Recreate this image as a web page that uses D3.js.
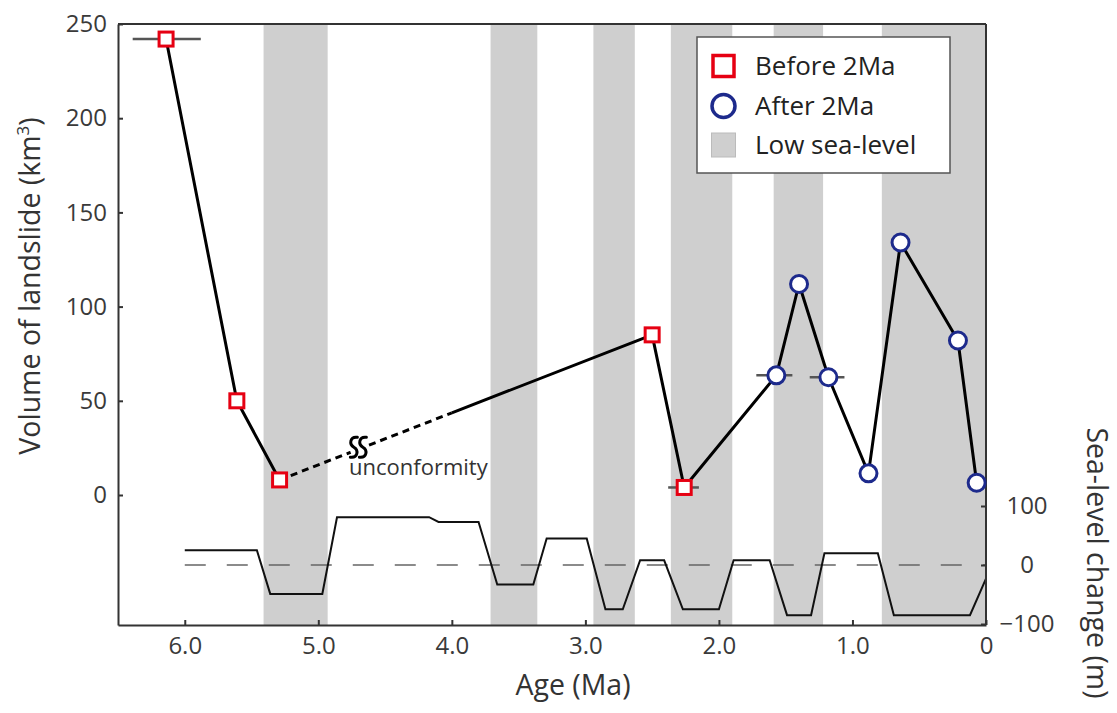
<!DOCTYPE html>
<html>
<head>
<meta charset="utf-8">
<script src="https://cdn.jsdelivr.net/npm/d3@7"></script>
<style>
  html, body { margin: 0; padding: 0; background: #fff; }
  svg { display: block; font-family: "Open Sans", sans-serif; }
</style>
</head>
<body>
<svg id="chart" width="1117" height="713"></svg>
<script>
// ---------- DATA ----------
const lowSeaStart = [5.41, 3.71, 2.94, 2.36, 1.59, 0.78];
const lowSeaEnd   = [4.93, 3.36, 2.63, 1.90, 1.22, 0.00];

const seaAge   = [6.0, 5.46, 5.36, 4.97, 4.86, 4.17, 4.10, 3.80, 3.66, 3.39, 3.29, 2.99, 2.85, 2.72, 2.59, 2.41, 2.27, 2.00, 1.89, 1.62, 1.49, 1.31, 1.21, 0.81, 0.69, 0.12, 0.0];
const seaLevel = [25, 25, -49, -49, 81, 81, 73, 73, -33, -33, 45, 45, -75, -75, 8, 8, -75, -75, 8, 8, -85, -85, 20, 20, -85, -85, -23];

const beforeAge = [6.14, 5.61, 5.29, 2.50, 2.26];
const beforeVol = [242, 50, 8, 85, 4];
const afterAge  = [1.57, 1.40, 1.18, 0.88, 0.64, 0.21, 0.07];
const afterVol  = [63.5, 112, 62.5, 11.5, 134, 82, 6.5];

// horizontal age-uncertainty bars: [series, index, older age, younger age]
const errSeries = ["before", "before", "after", "after"];
const errIndex  = [0, 4, 0, 2];
const errOld    = [6.39, 2.38, 1.72, 1.32];
const errYoung  = [5.88, 2.15, 1.45, 1.06];

const ageTicks = [6, 5, 4, 3, 2, 1, 0];
const volTicks = [0, 50, 100, 150, 200, 250];
const seaTicks = [-100, 0, 100];

const unconformityEndAge = 4.0;   // dotted part of the line ends here
const breakMarkAge = 4.70;        // position of the break symbol
const legendLabels = ["Before 2Ma", "After 2Ma", "Low sea-level"];

// ---------- LAYOUT ----------
const L = 118, R = 986, T = 24, B = 625;
const svg = d3.select("#chart");

const x = d3.scaleLinear().domain([6.5, 0]).range([L, R]);
const y = d3.scaleLinear().domain([-69, 250]).range([B, T]);
const ySea = d3.scaleLinear().domain([-100, 100]).range([624, 506]);

const RED = "#e60012", BLUE = "#1d2a8c", GRAY = "#cfcfcf", TXT = "#333";

// Low sea-level bands
svg.append("g").selectAll("rect")
  .data(lowSeaStart.map((s, i) => [s, lowSeaEnd[i]]))
  .join("rect")
  .attr("x", d => x(d[0]))
  .attr("y", T)
  .attr("width", d => x(d[1]) - x(d[0]))
  .attr("height", B - T)
  .attr("fill", GRAY);

// Sea level zero dashed line
svg.append("line")
  .attr("x1", x(6.0)).attr("x2", x(0))
  .attr("y1", ySea(0)).attr("y2", ySea(0))
  .attr("stroke", "#666").attr("stroke-width", 1.5)
  .attr("stroke-dasharray", "21,21");

// Sea level curve
const seaPts = seaAge.map((a, i) => [a, seaLevel[i]]);
svg.append("path")
  .datum(seaPts)
  .attr("d", d3.line().x(d => x(d[0])).y(d => ySea(d[1])))
  .attr("fill", "none").attr("stroke", "#111").attr("stroke-width", 2);

// Axes
const axisLeft = d3.axisLeft(y).tickValues(volTicks).tickSizeInner(-5).tickSizeOuter(0).tickPadding(11);
const gL = svg.append("g").attr("transform", `translate(${L},0)`).call(axisLeft);

const axisBottom = d3.axisBottom(x).tickValues(ageTicks).tickSizeInner(-5).tickSizeOuter(0).tickPadding(12)
  .tickFormat(d => d === 0 ? "0" : d3.format(".1f")(d));
const gB = svg.append("g").attr("transform", `translate(0,${B})`).call(axisBottom);

const axisRight = d3.axisRight(ySea).tickValues(seaTicks).tickSizeInner(-5).tickSizeOuter(0).tickPadding(41);
const gR = svg.append("g").attr("transform", `translate(${R},0)`).call(axisRight);
gR.select(".domain").attr("d", `M0,${T}V${B}`);
gR.selectAll(".tick text").attr("text-anchor", "middle");

// top frame line
svg.append("line").attr("x1", L).attr("x2", R).attr("y1", T).attr("y2", T)
  .attr("stroke", TXT).attr("stroke-width", 2);

[gL, gB, gR].forEach(g => {
  g.select(".domain").attr("stroke", TXT).attr("stroke-width", 2);
  g.selectAll(".tick line").attr("stroke", TXT).attr("stroke-width", 2);
  g.selectAll(".tick text").attr("fill", "#3a3a3a").attr("font-size", 24)
    .attr("font-family", "Open Sans, sans-serif");
});

// Axis titles
svg.append("text").attr("transform", "translate(40,286) rotate(-90)")
  .attr("text-anchor", "middle").attr("font-size", 28.5).attr("fill", TXT)
  .text("Volume of landslide (km")
  .append("tspan").attr("baseline-shift", "super").attr("font-size", 17).text("3")
  .select(function () { return this.parentNode; })
  .append("tspan").text(")");

svg.append("text").attr("x", 573).attr("y", 695)
  .attr("text-anchor", "middle").attr("font-size", 28.5).attr("fill", TXT)
  .text("Age (Ma)");

svg.append("text").attr("transform", "translate(1087,563) rotate(90)")
  .attr("text-anchor", "middle").attr("font-size", 28.5).attr("fill", TXT)
  .text("Sea-level change (m)");

// Connecting line
const allPts = beforeAge.map((a, i) => [a, beforeVol[i]]).concat(afterAge.map((a, i) => [a, afterVol[i]]));
const line = d3.line().x(d => x(d[0])).y(d => y(d[1]));
const p3 = allPts[2], p4 = allPts[3];
const along = a => { const t = (p3[0] - a) / (p3[0] - p4[0]); return [a, p3[1] + t * (p4[1] - p3[1])]; };
const splitPt = along(unconformityEndAge);

svg.append("path").datum(allPts.slice(0, 3)).attr("d", line)
  .attr("fill", "none").attr("stroke", "#000").attr("stroke-width", 3);
svg.append("path").datum([p3, splitPt]).attr("d", line)
  .attr("fill", "none").attr("stroke", "#000").attr("stroke-width", 3).attr("stroke-dasharray", "7,5");
svg.append("path").datum([splitPt].concat(allPts.slice(3))).attr("d", line)
  .attr("fill", "none").attr("stroke", "#000").attr("stroke-width", 3).attr("stroke-linejoin", "round");

// Break mark (two wavy strokes)
const bm = along(breakMarkAge);
const gBreak = svg.append("g").attr("transform", `translate(${x(bm[0])},${y(bm[1]) - 2})`);
gBreak.append("rect").attr("x", -9).attr("y", -5).attr("width", 18).attr("height", 10)
  .attr("fill", "#fff").attr("transform", "rotate(-20)");
[-4.5, 4.5].forEach(dx => {
  gBreak.append("path")
    .attr("d", `M${dx + 3.5},-10 C${dx - 4},-11 ${dx - 5},-3 ${dx},0 C${dx + 5},3 ${dx + 4},11 ${dx - 3.5},10`)
    .attr("fill", "none").attr("stroke", "#000").attr("stroke-width", 3).attr("stroke-linecap", "round");
});
svg.append("text").attr("x", 349).attr("y", 475).attr("font-size", 22).attr("fill", TXT)
  .text("unconformity");

// Error bars
svg.append("g").selectAll("line")
  .data(errIndex.map((idx, i) => {
    const vol = errSeries[i] === "before" ? beforeVol[idx] : afterVol[idx];
    return { a0: errOld[i], a1: errYoung[i], v: vol };
  }))
  .join("line")
  .attr("x1", d => x(d.a0)).attr("x2", d => x(d.a1))
  .attr("y1", d => y(d.v)).attr("y2", d => y(d.v))
  .attr("stroke", "#555").attr("stroke-width", 2.5);

// Markers
const SQ = 14;
svg.append("g").selectAll("rect")
  .data(beforeAge.map((a, i) => [a, beforeVol[i]]))
  .join("rect")
  .attr("x", d => x(d[0]) - SQ / 2).attr("y", d => y(d[1]) - SQ / 2)
  .attr("width", SQ).attr("height", SQ)
  .attr("fill", "#fff").attr("stroke", RED).attr("stroke-width", 3);

svg.append("g").selectAll("circle")
  .data(afterAge.map((a, i) => [a, afterVol[i]]))
  .join("circle")
  .attr("cx", d => x(d[0])).attr("cy", d => y(d[1])).attr("r", 8.5)
  .attr("fill", "#fff").attr("stroke", BLUE).attr("stroke-width", 3);

// Legend
const lg = svg.append("g");
lg.append("rect").attr("x", 697).attr("y", 37).attr("width", 253).attr("height", 136)
  .attr("fill", "#fff").attr("stroke", "#555").attr("stroke-width", 1.5);
const rowY = [66, 106, 145];
lg.append("rect").attr("x", 723.5 - 10.5).attr("y", rowY[0] - 10.5).attr("width", 21).attr("height", 21)
  .attr("fill", "#fff").attr("stroke", RED).attr("stroke-width", 3.5);
lg.append("circle").attr("cx", 723.5).attr("cy", rowY[1]).attr("r", 11.5)
  .attr("fill", "#fff").attr("stroke", BLUE).attr("stroke-width", 3.5);
lg.append("rect").attr("x", 723.5 - 12).attr("y", rowY[2] - 12).attr("width", 24).attr("height", 24)
  .attr("fill", GRAY).attr("stroke", "#bbb").attr("stroke-width", 1);
lg.selectAll("text.lab").data(legendLabels).join("text").attr("class", "lab")
  .attr("x", 755).attr("y", (d, i) => rowY[i]).attr("dy", "0.36em")
  .attr("font-size", 26).attr("fill", "#222").text(d => d);
</script>
</body>
</html>
